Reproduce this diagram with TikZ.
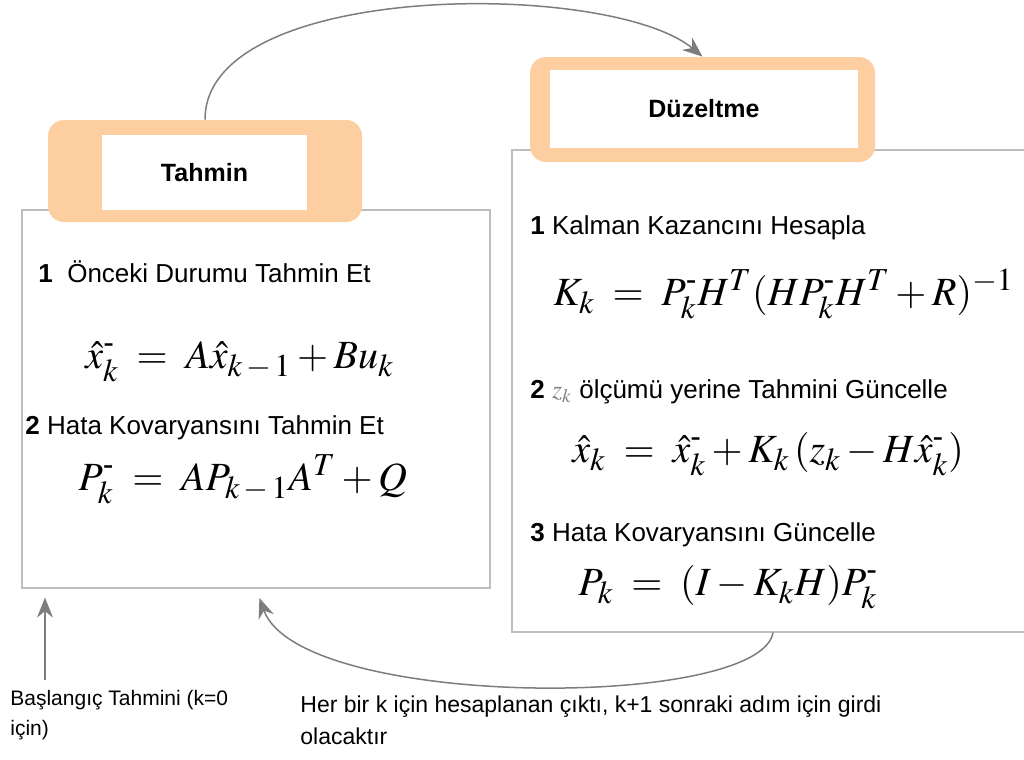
\documentclass[tikz,border=0pt]{standalone}
\usepackage{amsmath}
\usepackage{mathptmx}
\usepackage[no-math]{fontspec}
\setmainfont{Liberation Sans}
\usepackage{xcolor}
\usetikzlibrary{arrows.meta}

% larger indices, as in the printed formulas
\DeclareMathSizes{20}{20}{16}{12}

\definecolor{headorange}{RGB}{252,206,160}
\definecolor{framegray}{RGB}{190,190,190}
\definecolor{arrowgray}{RGB}{125,125,125}

% small prior mark used in the formulas
\newcommand{\pri}{\text{-}}

\tikzset{
  panel/.style={draw=framegray, line width=0.6pt, fill=white, inner sep=0pt},
  headframe/.style={fill=headorange, rounded corners=8pt, inner sep=0pt},
  headlabel/.style={fill=white, inner sep=0pt, font=\bfseries\fontsize{12.5}{15}\selectfont},
  steptext/.style={anchor=west, inner sep=0pt, font=\fontsize{13}{15}\selectfont},
  formula/.style={anchor=base west, inner sep=0pt, font=\fontsize{20}{23}\selectfont},
  note/.style={anchor=north west, align=left, inner sep=0pt},
  flowarrow/.style={draw=arrowgray, line width=0.75pt, -{Stealth[length=10pt,width=8pt]}}
}

\begin{document}
\begin{tikzpicture}[x=0.5pt, y=-0.5pt]
  \useasboundingbox (0,0) rectangle (1024,760);
  \clip (0,0) rectangle (1024,760);

  % Prediction panel on the left
  \node[panel, minimum width=234pt, minimum height=189pt] (tpanel) at (256,399) {};
  \node[headframe, minimum width=157pt, minimum height=51pt] (tahmin) at (205,171) {};
  \node[headlabel, minimum width=102.5pt, minimum height=37.5pt] (tahminlbl) at (204.5,172.5) {Tahmin};

  \node[steptext] (est1) at (38,272) {\textbf{1}\ \ Önceki Durumu Tahmin Et};
  \node[formula] (estx) at (85,368)
    {$\hat{x}_k^{\pri} \;=\; A\hat{x}_{k\,-\,1} + Bu_k$};
  \node[steptext] (est2) at (25,428) {\textbf{2} Hata Kovaryansını Tahmin Et};
  \node[formula] (estp) at (78,490)
    {$P_k^{\pri} \;=\; AP_{k\,-\,1}A^T + Q$};

  % Correction panel on the right
  \node[panel, minimum width=261pt, minimum height=241pt] (dpanel) at (773,391) {};
  \node[headframe, minimum width=172.5pt, minimum height=52.5pt] (duzeltme) at (702.5,109.5) {};
  \node[headlabel, minimum width=154pt, minimum height=39pt] (duzeltmelbl) at (704,109) {Düzeltme};

  \node[steptext] (cor1) at (530,228) {\textbf{1} Kalman Kazancını Hesapla};
  \node[formula] (cork) at (553,305)
    {$K_k \;=\; P_k^{\pri}H^T(HP_k^{\pri}H^T + R)^{-1}$};
  \node[steptext] (cor2) at (530,392) {\textbf{2} {\color{gray}$z_k$} ölçümü yerine Tahmini Güncelle};
  \node[formula] (corx) at (572,462)
    {$\hat{x}_k \;=\; \hat{x}_k^{\pri} + K_k\,(z_k - H\hat{x}_k^{\pri})$};
  \node[steptext] (cor3) at (530,535) {\textbf{3} Hata Kovaryansını Güncelle};
  \node[formula] (corp) at (578,595)
    {$P_k \;=\; (I - K_kH)P_k^{\pri}$};

  % Notes below the panels
  \node[note, font=\fontsize{10.5}{15}\selectfont] (inittext) at (10,690)
    {Başlangıç Tahmini (k=0\\için)};
  \node[note, font=\fontsize{11.5}{16}\selectfont] (looptext) at (300,695)
    {Her bir k için hesaplanan çıktı, k+1 sonraki adım için girdi\\olacaktır};
  \coordinate (init) at (45,680);

  % Cycle between the two steps
  \draw[flowarrow] (tahmin.north) .. controls (205,-20) and (610,-20) .. (duzeltme.north);
  \draw[flowarrow, shorten >=5pt] (dpanel.south) .. controls (760,710) and (300,710) .. (tpanel.south);
  \draw[flowarrow, shorten >=4.5pt] (init) -- (init |- tpanel.south);
\end{tikzpicture}
\end{document}
